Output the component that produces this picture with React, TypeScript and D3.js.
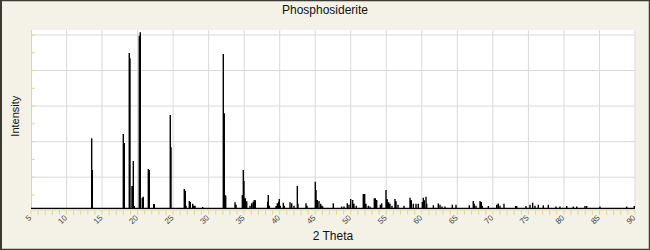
import React from "react";
import * as d3 from "d3";

const peakTwoTheta = [
  13.54, 13.63, 17.99, 18.13, 18.83, 18.93, 19.21, 19.4, 19.54, 20.24, 20.38, 20.66, 20.8,
  21.51, 21.65, 22.27, 22.35, 24.6, 24.7, 26.57, 26.71, 26.81, 27.28, 27.42, 27.76, 27.94,
  28.08, 29.16, 32.06, 32.2, 32.3, 32.4, 33.71, 33.85, 34.74, 34.88, 34.97, 35.16, 35.36,
  35.82, 36.06, 36.28, 36.42, 36.57, 38.31, 38.39, 38.54, 39.48, 39.66, 39.86, 39.94, 40.08,
  40.51, 40.65, 41.45, 41.69, 42.01, 42.48, 42.57, 43.7, 43.84, 45.01, 45.11, 45.29, 45.53,
  45.77, 45.95, 46.05, 47.54, 48.72, 49.05, 49.51, 49.75, 49.99, 50.27, 50.45, 50.78, 51.76,
  51.96, 52.14, 52.47, 52.71, 53.31, 53.45, 53.65, 54.16, 54.35, 54.96, 55.14, 55.34, 55.52,
  55.8, 56.22, 56.37, 56.65, 57.49, 58.34, 58.52, 58.8, 59.18, 59.5, 60.07, 60.21, 60.35,
  60.59, 60.69, 61.62, 62.32, 62.56, 62.84, 63.26, 64.29, 64.81, 66.68, 67.24, 67.38, 67.62,
  68.19, 68.37, 68.51, 69.36, 70.54, 70.76, 71.0, 71.56, 73.21, 73.35, 74.66, 75.22, 75.6,
  75.93, 76.39, 77.09, 77.8, 78.88, 79.44, 80.39, 81.31, 81.8, 82.96, 83.2, 85.07, 88.83, 89.9,
];

const peakIntensity = [
  41.9, 24.0, 44.3, 39.2, 89.9, 86.9, 15.0, 29.1, 3.8, 99.6, 101.5, 8.5, 9.0,
  24.6, 24.0, 4.9, 4.9, 55.0, 36.8, 13.4, 12.4, 4.0, 6.6, 6.0, 5.1, 4.0,
  4.0, 3.2, 89.3, 55.9, 10.0, 9.5, 5.9, 4.5, 10.0, 24.0, 17.9, 8.1, 6.4,
  4.0, 5.3, 6.2, 7.2, 7.0, 6.2, 10.0, 4.0, 3.8, 5.3, 6.2, 7.7, 4.0,
  5.6, 4.0, 5.9, 5.3, 4.0, 15.0, 5.0, 5.3, 4.0, 17.5, 12.8, 7.2, 6.6,
  5.0, 4.0, 3.5, 5.3, 3.5, 3.5, 5.3, 4.5, 7.7, 7.2, 5.0, 4.0, 10.5,
  10.5, 5.0, 4.0, 3.5, 8.1, 8.1, 7.2, 4.5, 5.3, 12.8, 7.6, 5.9, 5.0,
  4.0, 7.7, 6.5, 4.5, 4.0, 8.5, 7.0, 5.0, 5.0, 5.0, 6.0, 8.5, 7.0,
  9.0, 5.0, 4.2, 5.2, 4.5, 3.5, 3.5, 4.5, 4.5, 4.2, 6.6, 5.0, 4.0,
  6.6, 6.0, 4.0, 3.8, 4.5, 5.2, 4.0, 5.0, 3.8, 3.8, 3.8, 4.5, 5.6,
  4.0, 4.5, 4.2, 4.5, 3.5, 3.5, 3.8, 3.5, 3.5, 3.8, 3.8, 3.5, 3.5, 3.8,
];

const xDomain = [5, 90];
const yDomain = [2.5, 102.8];
const xTickLabels = [5, 10, 15, 20, 25, 30, 35, 40, 45, 50, 55, 60, 65, 70, 75, 80, 85, 90];
const yGridValues = [20, 40, 60, 80, 100];

const W = 650;
const H = 250;
const L = 31;
const R = 635;
const T = 30;
const B = 208.3;

const BG = "#f4f2e6";
const TAN = "#ddd59a";
const GRID = "#d9d9d9";
const FONT = "'Liberation Sans', Arial, sans-serif";

export default function App() {
  const x = d3.scaleLinear().domain(xDomain).range([L, R]);
  const y = d3.scaleLinear().domain(yDomain).range([B, T]);

  const minorX = d3.range(xDomain[0], xDomain[1] + 0.001, 1);
  const minorY = d3.range(10, yDomain[1], 10);

  const peakPath = peakTwoTheta
    .map((t, i) => `M${x(t).toFixed(2)},${y(yDomain[0])}V${y(peakIntensity[i]).toFixed(2)}`)
    .join("");

  return (
    <svg
      width={W}
      height={H}
      style={{ position: "absolute", left: 0, top: 0, display: "block" }}
    >
      <rect x={0} y={0} width={W} height={H} fill={BG} />
      <rect x={1} y={0.5} width={W - 1.5} height={H - 1} fill="none" stroke="#3b3a33" strokeWidth={1.5} />
      <rect x={0} y={0} width={2} height={H} fill="#3b3a33" />

      <text x={(L + R) / 2 - 8} y={14} textAnchor="middle" fontFamily={FONT} fontSize={12} fill="#111">
        Phosphosiderite
      </text>

      <rect x={L} y={T} width={R - L} height={B - T} fill="#fff" />

      {xTickLabels
        .filter((v) => v > xDomain[0])
        .map((v) => (
          <line key={"gx" + v} x1={x(v)} x2={x(v)} y1={T} y2={B} stroke={GRID} strokeWidth={1} />
        ))}
      {yGridValues.map((v) => (
        <line key={"gy" + v} x1={L} x2={R} y1={y(v)} y2={y(v)} stroke={GRID} strokeWidth={1} />
      ))}

      <line x1={L + 0.5} x2={L + 0.5} y1={T} y2={B} stroke={TAN} strokeWidth={1} />
      {minorY.map((v) => (
        <line key={"ty" + v} x1={L} x2={L + 4} y1={y(v)} y2={y(v)} stroke={TAN} strokeWidth={1} />
      ))}

      <line x1={L} x2={R} y1={B + 1.7} y2={B + 1.7} stroke={TAN} strokeWidth={1} />
      {minorX.map((v) => (
        <line key={"tx" + v} x1={x(v)} x2={x(v)} y1={B + 2} y2={B + 6.5} stroke={TAN} strokeWidth={1} />
      ))}

      <path d={peakPath} stroke="#000" strokeWidth={1.4} fill="none" />
      <line x1={L} x2={R} y1={B} y2={B} stroke="#000" strokeWidth={1.2} />

      {xTickLabels.map((v) => (
        <text
          key={"lx" + v}
          transform={`translate(${x(v) + 1},${B + 10}) rotate(-45)`}
          textAnchor="end"
          fontFamily={FONT}
          fontSize={8}
          fill="#444"
        >
          {v}
        </text>
      ))}

      <text x={(L + R) / 2} y={240} textAnchor="middle" fontFamily={FONT} fontSize={12} fill="#111">
        2 Theta
      </text>
      <text
        transform={`translate(19,${(T + B) / 2 - 3}) rotate(-90)`}
        textAnchor="middle"
        fontFamily={FONT}
        fontSize={11}
        fill="#111"
      >
        Intensity
      </text>
    </svg>
  );
}
